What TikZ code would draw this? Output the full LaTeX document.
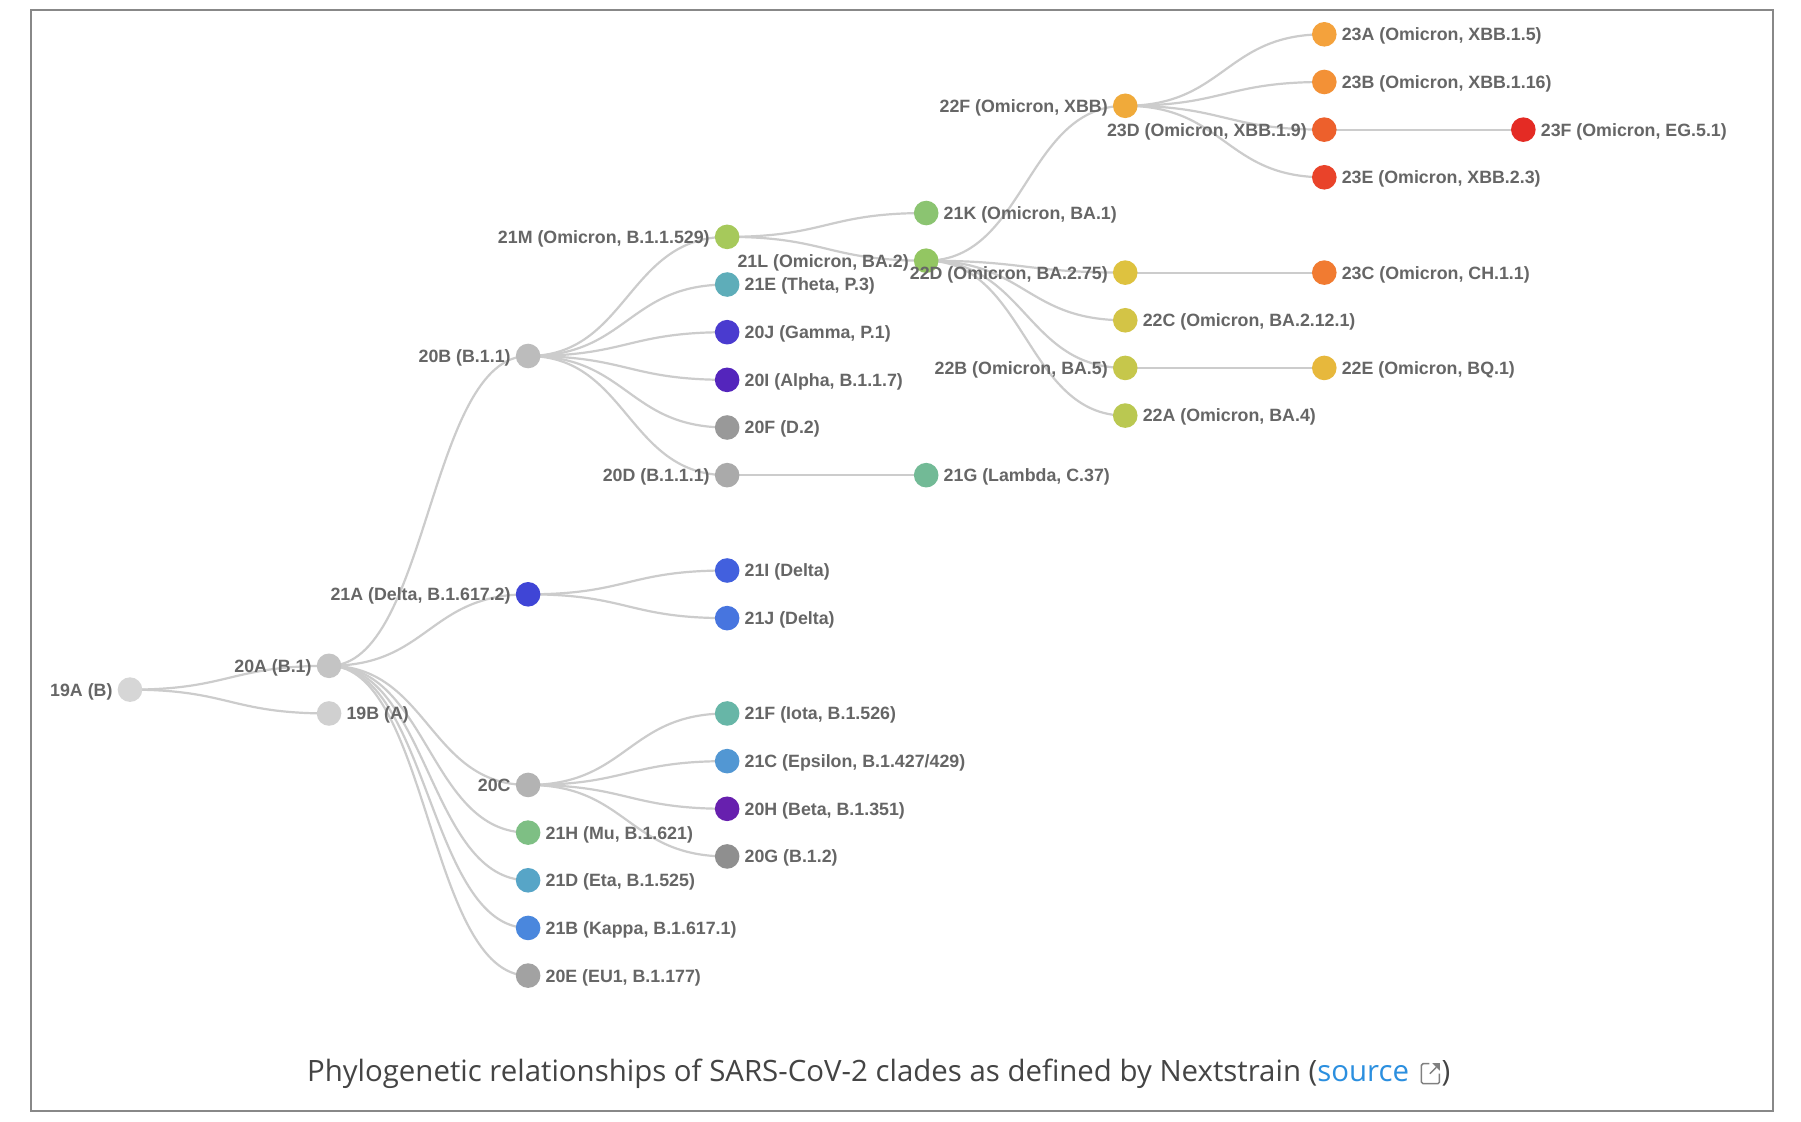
\documentclass[tikz,border=0pt]{standalone}
\usepackage{fontspec}
\setmainfont{Liberation Sans}
\newfontfamily\capfont{Open Sans}
\usetikzlibrary{calc}
\pgfdeclarelayer{background}
\pgfsetlayers{background,main}
\definecolor{lab}{HTML}{666666}
\definecolor{linkc}{HTML}{CCCCCC}
\definecolor{framec}{HTML}{888888}
\definecolor{capc}{HTML}{444444}
\definecolor{srcblue}{HTML}{2B8FDF}
\definecolor{iconc}{HTML}{808080}
\definecolor{c19A}{HTML}{D6D6D6}
\definecolor{c19B}{HTML}{D0D0D0}
\definecolor{c20A}{HTML}{C4C4C4}
\definecolor{c20B}{HTML}{BCBCBC}
\definecolor{c20C}{HTML}{B3B3B3}
\definecolor{c20D}{HTML}{AAAAAA}
\definecolor{c20E}{HTML}{A2A2A2}
\definecolor{c20F}{HTML}{999999}
\definecolor{c20G}{HTML}{8F8F8F}
\definecolor{c20H}{HTML}{6720AE}
\definecolor{c20I}{HTML}{5425BC}
\definecolor{c20J}{HTML}{4A3BCF}
\definecolor{c21A}{HTML}{3F45D6}
\definecolor{c21I}{HTML}{4260DE}
\definecolor{c21J}{HTML}{4775DF}
\definecolor{c21B}{HTML}{4A87DD}
\definecolor{c21C}{HTML}{5297D3}
\definecolor{c21D}{HTML}{57A5C7}
\definecolor{c21E}{HTML}{5EADB9}
\definecolor{c21F}{HTML}{67B6A7}
\definecolor{c21G}{HTML}{72BA96}
\definecolor{c21H}{HTML}{7EBF84}
\definecolor{c21K}{HTML}{8BC471}
\definecolor{c21L}{HTML}{93C662}
\definecolor{c21M}{HTML}{A6C95B}
\definecolor{c22A}{HTML}{BAC851}
\definecolor{c22B}{HTML}{C6C74B}
\definecolor{c22C}{HTML}{D3C446}
\definecolor{c22D}{HTML}{DEC23F}
\definecolor{c22E}{HTML}{E7B83C}
\definecolor{c22F}{HTML}{F0AA3A}
\definecolor{c23A}{HTML}{F4A23C}
\definecolor{c23B}{HTML}{F39136}
\definecolor{c23C}{HTML}{F17B31}
\definecolor{c23D}{HTML}{ED602C}
\definecolor{c23E}{HTML}{E9432A}
\definecolor{c23F}{HTML}{E42B24}
\newcommand{\cw}{199.05}
\newcommand{\rh}{23.83}
% clade dot: id, depth, row, label side (lr/ll), label
\newcommand{\clade}[5]{%
  \node[dot=c#1] (n#1) at (130+#2*\cw, 34.3+#3*\rh) {};
  \ifx#4r\node[lr] (L#1) at (n#1.east) {#5};\else\node[ll] (L#1) at (n#1.west) {#5};\fi
}
\newcommand{\lnk}[2]{\draw[link] let \p1=(n#1.center), \p2=(n#2.center) in
  (\p1) .. controls ({(\x1+\x2)/2},\y1) and ({(\x1+\x2)/2},\y2) .. (\p2);}
\begin{document}
\begin{tikzpicture}[x=0.5pt,y=-0.5pt,
  dot/.style={circle,inner sep=0pt,minimum size=12.3pt,fill=#1,draw=none},
  labfont/.style={inner sep=0pt,font=\bfseries\fontsize{8.9}{10}\selectfont,text=lab},
  lr/.style={labfont,anchor=base west,xshift=2.2pt,yshift=-3.2pt},
  ll/.style={labfont,anchor=base east,xshift=-2.2pt,yshift=-3.2pt},
  link/.style={draw=linkc,line width=1.1pt},
  captxt/.style={inner sep=0pt,font=\capfont\fontsize{14.7}{17}\selectfont,text=capc}]
\useasboundingbox (0,0) rectangle (1801,1121);
\begin{pgfonlayer}{background}
\fill[white] (0,0) rectangle (1801,1121);
\end{pgfonlayer}
\draw[draw=framec,line width=0.85pt] (31,10) rectangle (1772.7,1111);

\clade{19A}{0}{27.5}{l}{19A (B)}
\clade{20A}{1}{26.5}{l}{20A (B.1)}
\clade{19B}{1}{28.5}{r}{19B (A)}
\clade{20B}{2}{13.5}{l}{20B (B.1.1)}
\clade{21A}{2}{23.5}{l}{21A (Delta, B.1.617.2)}
\clade{20C}{2}{31.5}{l}{20C}
\clade{21H}{2}{33.5}{r}{21H (Mu, B.1.621)}
\clade{21D}{2}{35.5}{r}{21D (Eta, B.1.525)}
\clade{21B}{2}{37.5}{r}{21B (Kappa, B.1.617.1)}
\clade{20E}{2}{39.5}{r}{20E (EU1, B.1.177)}
\clade{21M}{3}{8.5}{l}{21M (Omicron, B.1.1.529)}
\clade{21E}{3}{10.5}{r}{21E (Theta, P.3)}
\clade{20J}{3}{12.5}{r}{20J (Gamma, P.1)}
\clade{20I}{3}{14.5}{r}{20I (Alpha, B.1.1.7)}
\clade{20F}{3}{16.5}{r}{20F (D.2)}
\clade{20D}{3}{18.5}{l}{20D (B.1.1.1)}
\clade{21I}{3}{22.5}{r}{21I (Delta)}
\clade{21J}{3}{24.5}{r}{21J (Delta)}
\clade{21F}{3}{28.5}{r}{21F (Iota, B.1.526)}
\clade{21C}{3}{30.5}{r}{21C (Epsilon, B.1.427/429)}
\clade{20H}{3}{32.5}{r}{20H (Beta, B.1.351)}
\clade{20G}{3}{34.5}{r}{20G (B.1.2)}
\clade{21K}{4}{7.5}{r}{21K (Omicron, BA.1)}
\clade{21L}{4}{9.5}{l}{21L (Omicron, BA.2)}
\clade{21G}{4}{18.5}{r}{21G (Lambda, C.37)}
\clade{22F}{5}{3}{l}{22F (Omicron, XBB)}
\clade{22D}{5}{10}{l}{22D (Omicron, BA.2.75)}
\clade{22C}{5}{12}{r}{22C (Omicron, BA.2.12.1)}
\clade{22B}{5}{14}{l}{22B (Omicron, BA.5)}
\clade{22A}{5}{16}{r}{22A (Omicron, BA.4)}
\clade{23A}{6}{0}{r}{23A (Omicron, XBB.1.5)}
\clade{23B}{6}{2}{r}{23B (Omicron, XBB.1.16)}
\clade{23D}{6}{4}{l}{23D (Omicron, XBB.1.9)}
\clade{23E}{6}{6}{r}{23E (Omicron, XBB.2.3)}
\clade{23C}{6}{10}{r}{23C (Omicron, CH.1.1)}
\clade{22E}{6}{14}{r}{22E (Omicron, BQ.1)}
\clade{23F}{7}{4}{r}{23F (Omicron, EG.5.1)}

\begin{pgfonlayer}{background}
\lnk{19A}{20A}\lnk{19A}{19B}
\lnk{20A}{20B}\lnk{20A}{21A}\lnk{20A}{20C}\lnk{20A}{21H}\lnk{20A}{21D}\lnk{20A}{21B}\lnk{20A}{20E}
\lnk{20B}{21M}\lnk{20B}{21E}\lnk{20B}{20J}\lnk{20B}{20I}\lnk{20B}{20F}\lnk{20B}{20D}
\lnk{20D}{21G}
\lnk{21A}{21I}\lnk{21A}{21J}
\lnk{20C}{21F}\lnk{20C}{21C}\lnk{20C}{20H}\lnk{20C}{20G}
\lnk{21M}{21K}\lnk{21M}{21L}
\lnk{21L}{22F}\lnk{21L}{22D}\lnk{21L}{22C}\lnk{21L}{22B}\lnk{21L}{22A}
\lnk{22F}{23A}\lnk{22F}{23B}\lnk{22F}{23D}\lnk{22F}{23E}
\lnk{23D}{23F}\lnk{22D}{23C}\lnk{22B}{22E}
\end{pgfonlayer}

\node[captxt,anchor=base west] (cap) at (306.7,1081.7)
  {Phylogenetic relationships of SARS-CoV-2 clades as defined by Nextstrain (\textcolor{srcblue}{source}};
\begin{scope}[shift={(cap.base east)}]
  \draw[iconc,line width=0.75pt,rounded corners=0.8pt] (20,-18) -- (12,-18) -- (12,2) -- (30,2) -- (30,-8);
  \fill[iconc] (30.5,-18.5) -- (23,-18.5) -- (30.5,-11) -- cycle;
  \draw[iconc,line width=0.75pt] (20.5,-8) -- (27,-14.5);
\end{scope}
\node[captxt,anchor=base west] (cap2) at ([xshift=15.85pt]cap.base east) {)};
\end{tikzpicture}
\end{document}
